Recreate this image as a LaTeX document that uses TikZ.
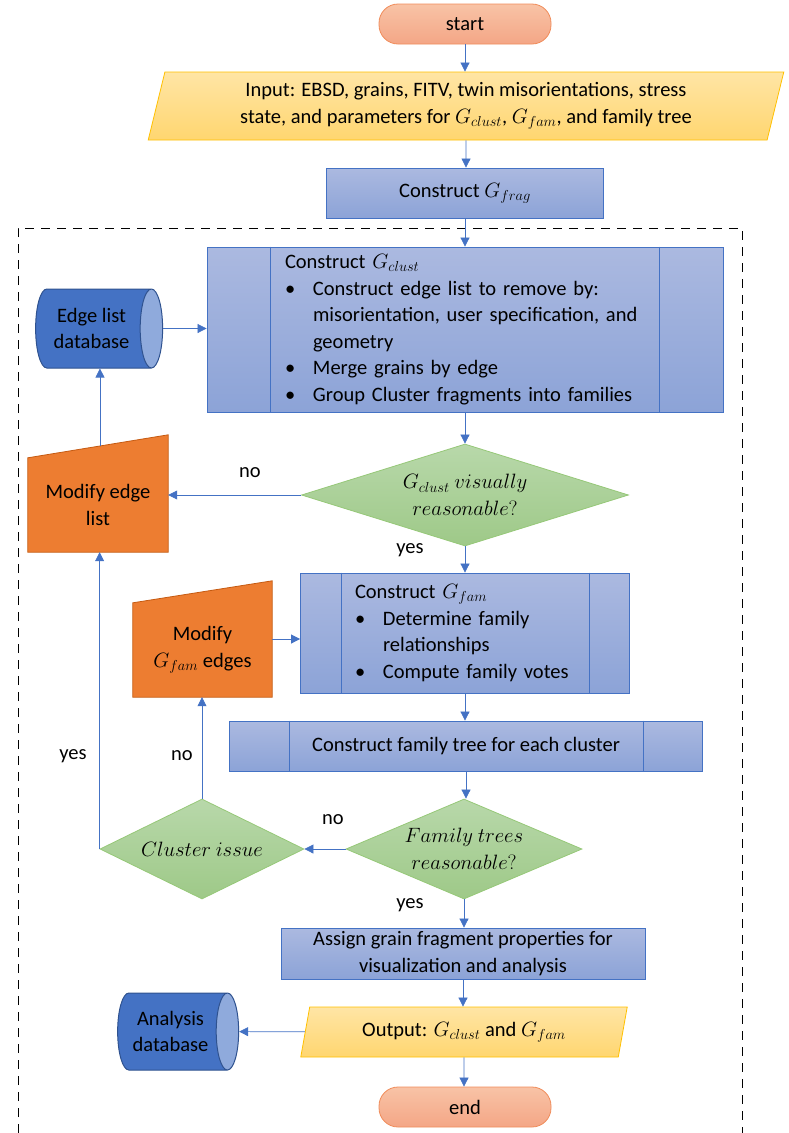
\documentclass[tikz,border=0pt]{standalone}
\usepackage{fontspec}
\setmainfont{Carlito}
\usetikzlibrary{arrows.meta,positioning,shapes.geometric,calc,backgrounds}
\definecolor{flowBlue}{RGB}{68,114,196}
\definecolor{procTop}{RGB}{171,185,224}
\definecolor{procBot}{RGB}{140,163,215}
\definecolor{ioTop}{RGB}{255,229,165}
\definecolor{ioBot}{RGB}{255,214,112}
\definecolor{ioEdge}{RGB}{255,192,0}
\definecolor{decTop}{RGB}{184,216,170}
\definecolor{decBot}{RGB}{158,201,136}
\definecolor{decEdge}{RGB}{150,200,120}
\definecolor{modFill}{RGB}{237,125,49}
\definecolor{modEdge}{RGB}{197,90,17}
\definecolor{termTop}{RGB}{248,195,166}
\definecolor{termBot}{RGB}{244,166,134}
\definecolor{termEdge}{RGB}{240,140,90}
\definecolor{dbFill}{RGB}{68,114,196}
\definecolor{dbEdge}{RGB}{47,82,143}
\definecolor{dbCap}{RGB}{143,170,220}

\begin{document}
\begin{tikzpicture}[x=1pt,y=-1pt]
  \tikzset{
    base/.style={font=\fontsize{20.5}{26.5}\selectfont,align=center,inner sep=2pt},
    term/.style={base,rectangle,rounded corners=19pt,draw=termEdge,line width=0.8pt,top color=termTop,bottom color=termBot,minimum width=172pt,minimum height=40pt},
    io/.style={base,trapezium,trapezium left angle=76,trapezium right angle=104,trapezium stretches=true,draw=ioEdge,line width=0.8pt,top color=ioTop,bottom color=ioBot},
    proc/.style={base,rectangle,draw=flowBlue,line width=0.8pt,top color=procTop,bottom color=procBot},
    dec/.style={base,diamond,inner sep=0pt,draw=decEdge,line width=0.8pt,top color=decTop,bottom color=decBot},
    db/.style={base,cylinder,draw=dbEdge,line width=1pt,cylinder uses custom fill,cylinder body fill=dbFill,cylinder end fill=dbCap,aspect=0.5},
    manual/.style={draw=modEdge,line width=0.8pt,fill=modFill},
    flow/.style={draw=flowBlue,line width=0.7pt,-{Triangle[width=9pt,length=9pt]}},
    lbl/.style={font=\fontsize{20.5}{24}\selectfont,inner sep=0pt}
  }
  \useasboundingbox (0,0) rectangle (789,1133);
  % outer dashed frame
  \draw[line width=0.7pt,dash pattern=on 9pt off 7pt] (18,1133) -- (18,228) -- (742,228) -- (742,1133);

  \node[term] (start) at (465,24) {start};
  \node[io,minimum width=637pt,minimum height=68pt] (input) at (466,106) {Input: EBSD, grains, FITV, twin misorientations, stress\\state, and parameters for $G_{clust}$, $G_{fam}$, and family tree};
  \node[proc,minimum width=277pt,minimum height=50pt] (gfrag) at (465,193) {Construct $G_{frag}$};
  \node[proc,minimum width=516pt,minimum height=165pt,text width=360pt,align=left] (gclust) at (465,329.5) {Construct $G_{clust}$\\
    \makebox[28pt][l]{\textbullet}Construct edge list to remove by:\\
    \hspace*{28pt}misorientation, user specification, and\\
    \hspace*{28pt}geometry\\
    \makebox[28pt][l]{\textbullet}Merge grains by edge\\
    \makebox[28pt][l]{\textbullet}Group Cluster fragments into families};
  \node[db,minimum width=79pt,minimum height=127pt] (edgedb) at (91.5,328.5) {Edge list\\database};
  \node[dec,minimum width=327pt,minimum height=102pt,aspect=3.2] (clustok) at (465,495) {$G_{clust}\ visually$\\$reasonable?$};
  \node[base,minimum width=140pt,minimum height=94pt] (modedge) at (98,505) {Modify edge\\list};
  \node[proc,minimum width=329pt,minimum height=120pt,text width=220pt,align=left] (gfam) at (465,633) {Construct $G_{fam}$\\
    \makebox[28pt][l]{\textbullet}Determine family\\
    \hspace*{28pt}relationships\\
    \makebox[28pt][l]{\textbullet}Compute family votes};
  \node[base,minimum width=139pt,minimum height=94pt] (modfam) at (202.5,650) {Modify\\$G_{fam}$ edges};
  \node[proc,minimum width=473pt,minimum height=50pt] (ftree) at (466,746) {Construct family tree for each cluster};
  \node[dec,minimum width=236pt,minimum height=100pt,aspect=2.36] (treeok) at (464,849) {$Family\ trees$\\$reasonable?$};
  \node[dec,minimum width=204pt,minimum height=100pt,aspect=2.04] (issue) at (202,849) {$Cluster\ issue$};
  \node[proc,minimum width=364pt,minimum height=51pt] (assign) at (463,953.5) {Assign grain fragment properties for\\visualization and analysis};
  \node[io,minimum width=327pt,minimum height=50pt] (output) at (464,1032) {Output: $G_{clust}$ and $G_{fam}$};
  \node[db,minimum width=77pt,minimum height=121pt] (anadb) at (170.5,1031.5) {Analysis\\database};
  \node[term] (end) at (465,1107) {end};

  % side bars of the process boxes
  \foreach \n/\d in {gclust/64,gfam/41,ftree/60} {
    \draw[flowBlue,line width=0.8pt] ([xshift=\d pt]\n.north west) -- ([xshift=\d pt]\n.south west);
    \draw[flowBlue,line width=0.8pt] ([xshift=-\d pt]\n.north east) -- ([xshift=-\d pt]\n.south east);
  }
  % manual input shapes
  \begin{scope}[on background layer]
    \draw[manual] (modedge.south west) -- (modedge.south east) -- ([yshift=23pt]modedge.north east) -- (modedge.north west) -- cycle;
    \draw[manual] (modfam.south west) -- (modfam.south east) -- ([yshift=22pt]modfam.north east) -- (modfam.north west) -- cycle;
  \end{scope}

  % connectors
  \foreach \a/\b in {start/input,input/gfrag,gfrag/gclust,gclust/clustok,gfam/ftree,ftree/treeok,assign/output,output/end}
    \draw[flow] (\a) -- (\a |- \b.north);
  \draw[flow] (edgedb) -- (edgedb -| gclust.west);
  \draw[flow] (clustok) -- (clustok -| modedge.east);
  \draw[flow] (clustok) -- (clustok |- gfam.north);
  \coordinate (modtop) at ($(modedge.north west)!0.514!([yshift=23pt]modedge.north east)$);
  \draw[flow] (modtop) -- (modtop |- edgedb.south);
  \draw[flow] ([yshift=11pt]modfam.east) -- ([yshift=11pt]modfam.east -| gfam.west);
  \draw[flow] (treeok) -- (issue);
  \draw[flow] (issue) -- (issue |- modfam.south);
  \draw[flow] (issue.west) -- (issue.west |- modedge.south);
  \draw[flow] (treeok) -- (treeok |- assign.north);
  \draw[flow] (output) -- (anadb);

  \node[lbl] (noA) at (250,473) {no};
  \node[lbl] (yesA) at (410,550) {yes};
  \node[lbl] (yesB) at (73,756) {yes};
  \node[lbl] (noB) at (182,756) {no};
  \node[lbl] (noC) at (333,820) {no};
  \node[lbl] (yesC) at (410,905) {yes};
\end{tikzpicture}
\end{document}
